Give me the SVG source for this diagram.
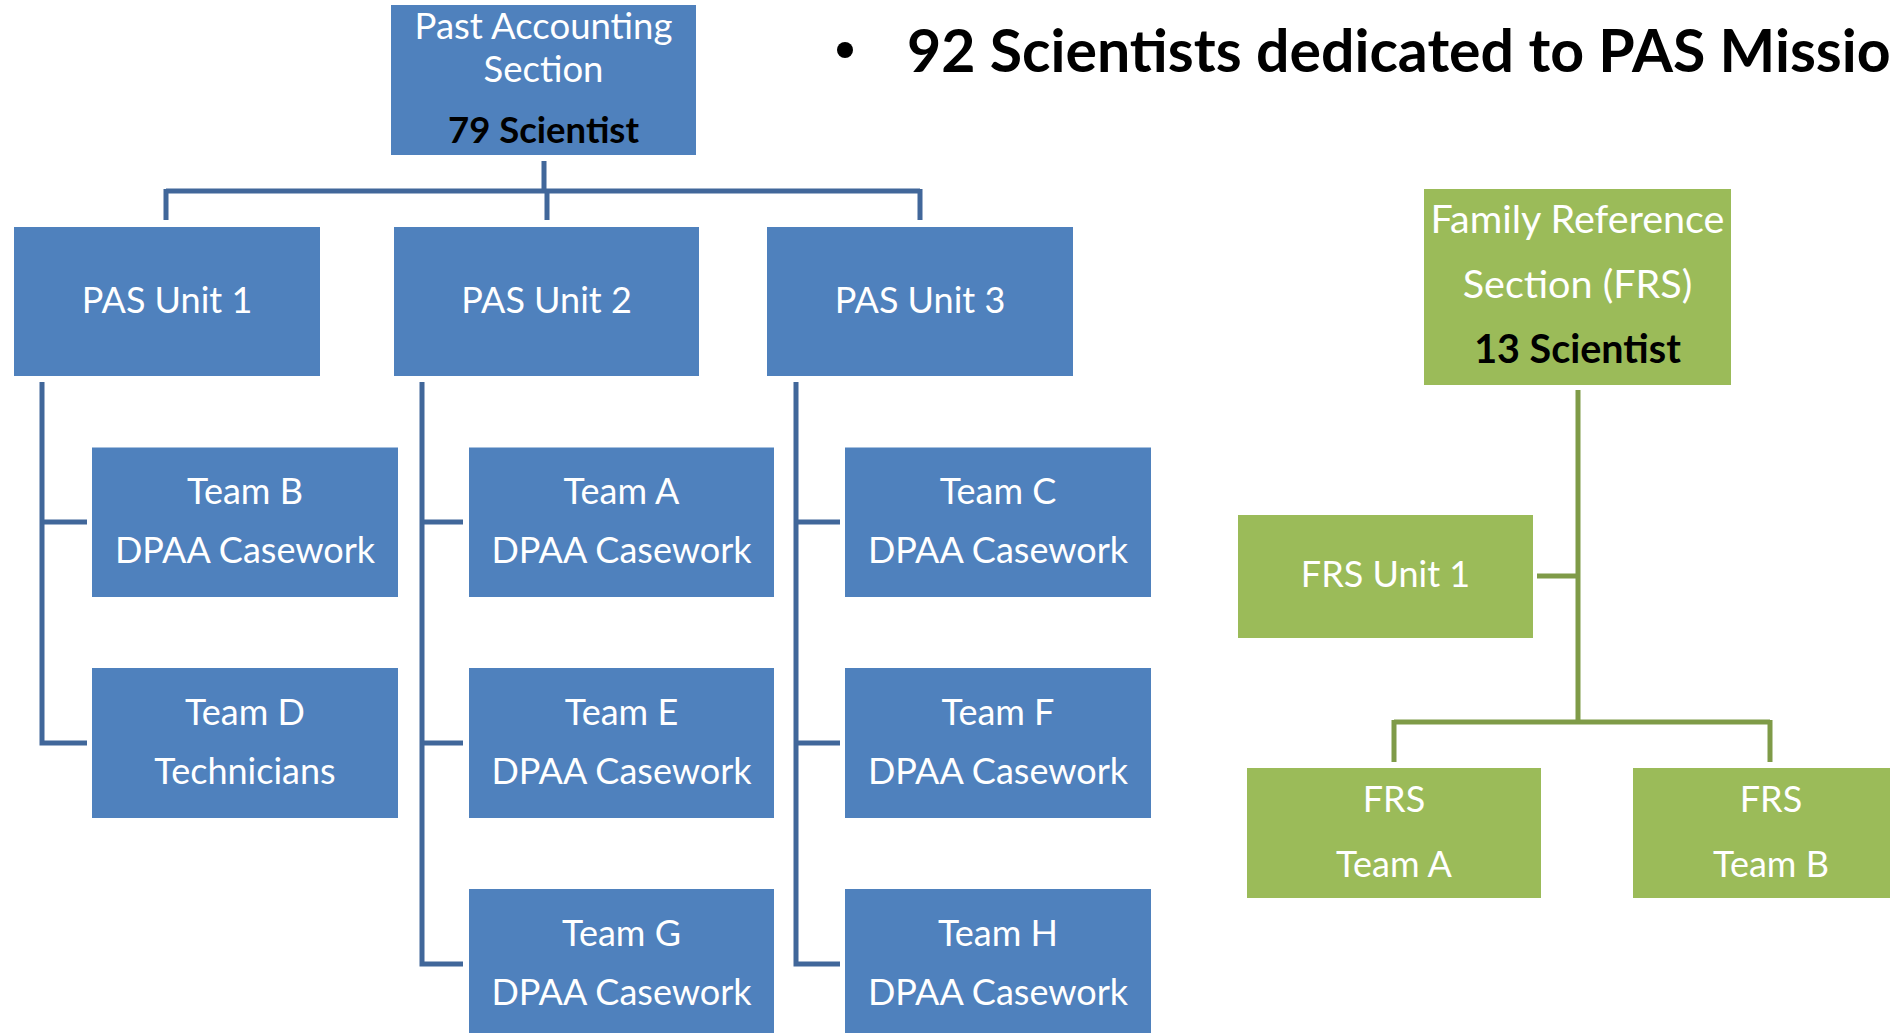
<svg xmlns="http://www.w3.org/2000/svg" width="1890" height="1033" viewBox="0 0 1890 1033">
<style>
.bb{fill:#4F81BD}
.gb{fill:#9BBB59}
.t{font-family:Lato,"Liberation Sans",sans-serif;fill:#FFFFFF;text-anchor:middle}
.k{font-family:Lato,"Liberation Sans",sans-serif;fill:#000000;text-anchor:middle;font-weight:bold}
.s36{font-size:36px}
.s35{font-size:36.5px}
.s38{font-size:39.5px}
.bl{fill:none;stroke:#41679A;stroke-width:5}
.gl{fill:none;stroke:#7F9B48;stroke-width:5}
</style>
<rect width="1890" height="1033" fill="#FFFFFF"/>
<g id="title">
<circle cx="845" cy="50" r="8" fill="#000000"/>
<text x="907" y="72" font-family="Lato,'Liberation Sans',sans-serif" font-weight="bold" font-size="59" fill="#000000">92 Scientists dedicated to PAS Mission</text>
</g>
<g id="connectors">
<path class="bl" d="M544,161 V191 M166,191 H920 M166,189 V220 M547,191 V220 M920,189 V220"/>
<path class="bl" d="M42,382 V745.5 M42,522 H87 M42,743 H87"/>
<path class="bl" d="M422,382 V966.5 M422,522 H463 M422,743 H463 M422,964 H463"/>
<path class="bl" d="M796,382 V966.5 M796,522 H840 M796,743 H840 M796,964 H840"/>
<path class="gl" d="M1578,390 V722 M1537,576 H1578 M1394,722 H1770 M1394,720 V762 M1770,720 V762"/>
</g>
<g id="pas-section">
<rect class="bb" x="391" y="5" width="305" height="150"/>
<text class="t s35" x="543.5" y="39">Past Accounting</text>
<text class="t s35" x="543.5" y="82">Section</text>
<text class="k s35" x="543.5" y="143">79 Scientist</text>
</g>
<g id="pas-unit-1">
<rect class="bb" x="14" y="227" width="306" height="149"/>
<text class="t s36" x="167" y="313">PAS Unit 1</text>
</g>
<g id="pas-unit-2">
<rect class="bb" x="394" y="227" width="305" height="149"/>
<text class="t s36" x="546.5" y="313">PAS Unit 2</text>
</g>
<g id="pas-unit-3">
<rect class="bb" x="767" y="227" width="306" height="149"/>
<text class="t s36" x="920" y="313">PAS Unit 3</text>
</g>
<g id="team-b">
<rect class="bb" x="92" y="447.5" width="306" height="149.5"/>
<text class="t s36" x="245" y="504">Team B</text>
<text class="t s36" x="245" y="563">DPAA Casework</text>
</g>
<g id="team-d">
<rect class="bb" x="92" y="668" width="306" height="150"/>
<text class="t s36" x="245" y="725">Team D</text>
<text class="t s36" x="245" y="784">Technicians</text>
</g>
<g id="team-a">
<rect class="bb" x="469" y="447.5" width="305" height="149.5"/>
<text class="t s36" x="621.5" y="504">Team A</text>
<text class="t s36" x="621.5" y="563">DPAA Casework</text>
</g>
<g id="team-e">
<rect class="bb" x="469" y="668" width="305" height="150"/>
<text class="t s36" x="621.5" y="725">Team E</text>
<text class="t s36" x="621.5" y="784">DPAA Casework</text>
</g>
<g id="team-g">
<rect class="bb" x="469" y="889" width="305" height="150"/>
<text class="t s36" x="621.5" y="946">Team G</text>
<text class="t s36" x="621.5" y="1005">DPAA Casework</text>
</g>
<g id="team-c">
<rect class="bb" x="845" y="447.5" width="306" height="149.5"/>
<text class="t s36" x="998" y="504">Team C</text>
<text class="t s36" x="998" y="563">DPAA Casework</text>
</g>
<g id="team-f">
<rect class="bb" x="845" y="668" width="306" height="150"/>
<text class="t s36" x="998" y="725">Team F</text>
<text class="t s36" x="998" y="784">DPAA Casework</text>
</g>
<g id="team-h">
<rect class="bb" x="845" y="889" width="306" height="150"/>
<text class="t s36" x="998" y="946">Team H</text>
<text class="t s36" x="998" y="1005">DPAA Casework</text>
</g>
<g id="frs-section">
<rect class="gb" x="1424" y="189" width="307" height="196"/>
<text class="t s38" x="1577.5" y="233">Family Reference</text>
<text class="t s38" x="1577.5" y="298">Section (FRS)</text>
<text class="k s38" x="1577.5" y="363">13 Scientist</text>
</g>
<g id="frs-unit-1">
<rect class="gb" x="1238" y="515" width="295" height="123"/>
<text class="t s36" x="1385.5" y="587">FRS Unit 1</text>
</g>
<g id="frs-team-a">
<rect class="gb" x="1247" y="768" width="294" height="130"/>
<text class="t s36" x="1394" y="812">FRS</text>
<text class="t s36" x="1394" y="877">Team A</text>
</g>
<g id="frs-team-b">
<rect class="gb" x="1633" y="768" width="280" height="130"/>
<text class="t s36" x="1771" y="812">FRS</text>
<text class="t s36" x="1771" y="877">Team B</text>
</g>
</svg>
